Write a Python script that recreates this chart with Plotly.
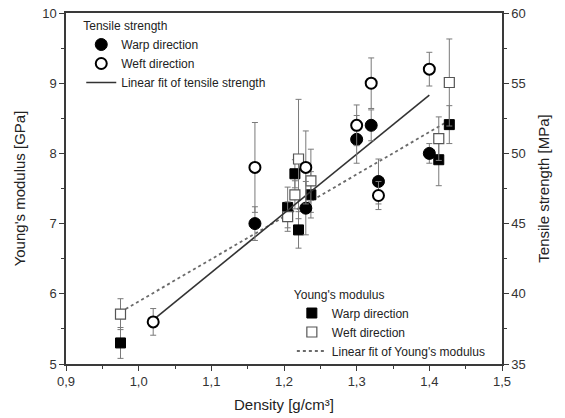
import plotly.graph_objects as go

# ---- Data ----
# Tensile strength [MPa] (right axis)
ts_warp_x = [1.16, 1.23, 1.30, 1.32, 1.33, 1.40]
ts_warp_y = [45.0, 46.1, 51.0, 52.0, 48.0, 50.0]
ts_warp_err = [1.2, 1.9, 1.7, 1.1, 1.6, 0.7]

ts_weft_x = [1.02, 1.16, 1.23, 1.30, 1.32, 1.33, 1.40]
ts_weft_y = [38.0, 49.0, 49.0, 52.0, 55.0, 47.0, 56.0]
ts_weft_err = [0.95, 3.2, 2.6, 1.45, 1.8, 1.0, 1.2]

ts_fit_x = [1.02, 1.40]
ts_fit_y = [38.15, 54.15]

# Young's modulus [GPa] (left axis)
ym_warp_x = [0.975, 1.205, 1.215, 1.22, 1.237, 1.413, 1.4275]
ym_warp_y = [5.30, 7.23, 7.71, 6.91, 7.41, 7.91, 8.41]
ym_warp_err = [0.22, 0.29, 0.2, 0.26, 0.33, 0.37, 0.27]

ym_weft_x = [0.975, 1.205, 1.215, 1.22, 1.237, 1.413, 1.4275]
ym_weft_y = [5.71, 7.10, 7.41, 7.92, 7.61, 8.21, 9.01]
ym_weft_err = [0.22, 0.21, 0.2, 0.85, 0.45, 0.31, 0.62]

ym_fit_x = [0.975, 1.4275]
ym_fit_y = [5.74, 8.47]

x_ticks = [0.9, 1.0, 1.1, 1.2, 1.3, 1.4, 1.5]

FONT = "Liberation Sans, Arial, sans-serif"
AX = "#3a3a3a"
ERR = "#7a7a7a"

fig = go.Figure()

def err(a):
    return dict(type="data", array=a, color=ERR, thickness=1, width=3)

# Young's modulus traces (legend2)
fig.add_trace(go.Scatter(x=ym_fit_x, y=ym_fit_y, mode="lines",
                         line=dict(color="#6a6a6a", width=1.8, dash="dot"),
                         name="Linear fit of Young's modulus", legend="legend2",
                         legendrank=3))
fig.add_trace(go.Scatter(x=ym_warp_x, y=ym_warp_y, mode="markers", error_y=err(ym_warp_err),
                         marker=dict(symbol="square", size=10, color="black",
                                     line=dict(color="black", width=1)),
                         name="Warp direction", legend="legend2", legendrank=1))
fig.add_trace(go.Scatter(x=ym_weft_x, y=ym_weft_y, mode="markers", error_y=err(ym_weft_err),
                         marker=dict(symbol="square", size=10, color="white",
                                     line=dict(color="#555555", width=1.2)),
                         name="Weft direction", legend="legend2", legendrank=2))

# Tensile strength traces (legend)
fig.add_trace(go.Scatter(x=ts_fit_x, y=ts_fit_y, mode="lines", yaxis="y2",
                         line=dict(color="#333333", width=1.6),
                         name="Linear fit of tensile strength", legend="legend",
                         legendrank=3))
fig.add_trace(go.Scatter(x=ts_warp_x, y=ts_warp_y, mode="markers", yaxis="y2",
                         error_y=err(ts_warp_err),
                         marker=dict(symbol="circle", size=12, color="black",
                                     line=dict(color="black", width=1)),
                         name="Warp direction", legend="legend", legendrank=1))
fig.add_trace(go.Scatter(x=ts_weft_x, y=ts_weft_y, mode="markers", yaxis="y2",
                         error_y=err(ts_weft_err),
                         marker=dict(symbol="circle", size=11, color="white",
                                     line=dict(color="black", width=2)),
                         name="Weft direction", legend="legend", legendrank=2))

tickfont = dict(family=FONT, size=13, color="#333333")
titlefont = dict(family=FONT, size=15, color="#222222")

fig.update_layout(
    width=565, height=418,
    margin=dict(l=66, r=63, t=13, b=54),
    paper_bgcolor="white", plot_bgcolor="white",
    separators=",.",
    font=dict(family=FONT, size=12, color="#222222"),
    xaxis=dict(range=[0.9, 1.5], tickvals=x_ticks, tickformat=".1f",
               showgrid=False, zeroline=False, automargin=False,
               showline=True, linecolor=AX, linewidth=1.5, mirror=True,
               ticks="outside", ticklen=5, tickwidth=1.2, tickcolor=AX,
               minor=dict(dtick=0.05, ticks="outside", ticklen=3, tickcolor=AX),
               tickfont=tickfont,
               title=dict(text="Density [g/cm³]", font=titlefont, standoff=11)),
    yaxis=dict(range=[5, 10], dtick=1, showgrid=False, zeroline=False, automargin=False,
               showline=True, linecolor=AX, linewidth=1.5,
               ticks="outside", ticklen=5, tickwidth=1.2, tickcolor=AX,
               minor=dict(dtick=0.5, ticks="outside", ticklen=3, tickcolor=AX),
               tickfont=tickfont,
               title=dict(text="Young's modulus [GPa]", font=titlefont, standoff=13)),
    yaxis2=dict(range=[35, 60], dtick=5, overlaying="y", side="right",
                showgrid=False, zeroline=False, automargin=False,
                showline=True, linecolor=AX, linewidth=1.5,
                ticks="outside", ticklen=5, tickwidth=1.2, tickcolor=AX,
                minor=dict(dtick=2.5, ticks="outside", ticklen=3, tickcolor=AX),
                tickfont=tickfont,
                title=dict(text="Tensile strength [MPa]", font=titlefont, standoff=14)),
    legend=dict(x=0.035, y=0.996, xanchor="left", yanchor="top",
                bgcolor="rgba(0,0,0,0)", borderwidth=0,
                title=dict(text="Tensile strength", font=dict(family=FONT, size=12)),
                font=dict(family=FONT, size=12), itemwidth=30,
                tracegroupgap=0),
    legend2=dict(x=0.518, y=0.231, xanchor="left", yanchor="top",
                 bgcolor="rgba(0,0,0,0)", borderwidth=0,
                 title=dict(text="Young's modulus", font=dict(family=FONT, size=12)),
                 font=dict(family=FONT, size=12), itemwidth=30,
                 tracegroupgap=0),
    showlegend=True,
)

fig.write_html("out.html")
